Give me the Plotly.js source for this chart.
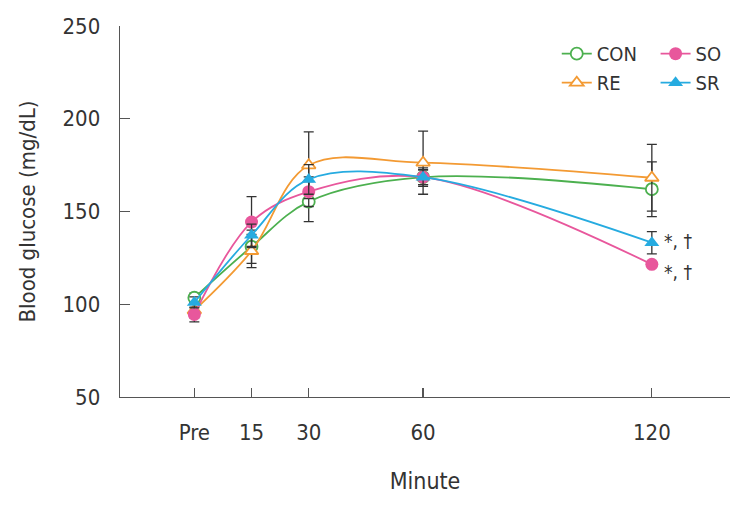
<!DOCTYPE html>
<html>
<head>
<meta charset="utf-8">
<script src="https://cdn.plot.ly/plotly-3.0.1.min.js"></script>
<style>html,body{margin:0;padding:0;background:#fff;}#chart{width:745px;height:506px;}</style>
</head>
<body>
<div id="chart"></div>
<script>
const minutes = [0, 15, 30, 60, 120];
const tickLabels = ['Pre', '15', '30', '60', '120'];
const seriesNames = ['CON', 'RE', 'SO', 'SR'];
const conValues = [103.5, 131, 155.3, 168.5, 162];
const conErr = [2.5, 9, 10.8, 5, 14.8];
const reValues = [96.7, 128.7, 174.9, 176.3, 168.2];
const reErr = [4, 9, 18, 17, 18];
const soValues = [94.5, 144.3, 160.7, 168.5, 121.5];
const soErr = [4, 13.7, 8, 4, 0];
const srValues = [101, 137.2, 167.3, 168.5, 133.2];
const srErr = [3, 6, 8, 4, 6];
const sigLabel = '*, \u2020';

const FONT = '"DejaVu Sans Condensed", "Liberation Sans Narrow", "Roboto Condensed", Arial, sans-serif';
const errStyle = {type: 'data', visible: true, color: '#333333', thickness: 1.3, width: 5};

function mk(name, y, err, color, symbol, open, legend) {
  return {
    x: minutes, y: y, name: name, type: 'scatter', mode: 'lines+markers',
    legend: legend,
    line: {color: color, width: 1.8, shape: 'spline', smoothing: 1},
    marker: {symbol: symbol, size: open ? 12 : 13, color: open ? '#ffffff' : color,
             line: {color: color, width: open ? 1.8 : 0}},
    error_y: Object.assign({array: err}, errStyle)
  };
}

const traces = [
  mk(seriesNames[0], conValues, conErr, '#4cb04f', 'circle', true, 'legend'),
  mk(seriesNames[1], reValues, reErr, '#f39a33', 'triangle-up', true, 'legend'),
  mk(seriesNames[2], soValues, soErr, '#e8579c', 'circle', false, 'legend2'),
  mk(seriesNames[3], srValues, srErr, '#26abe0', 'triangle-up', false, 'legend2')
];

const legendBase = {
  orientation: 'v', bgcolor: 'rgba(0,0,0,0)', borderwidth: 0,
  font: {family: FONT, size: 20, color: '#333'},
  xref: 'paper', yref: 'paper', xanchor: 'left', yanchor: 'top',
  tracegroupgap: 0, itemwidth: 30
};

const layout = {
  width: 745, height: 506, autosize: false,
  margin: {l: 120, r: 15, t: 26, b: 109},
  paper_bgcolor: '#ffffff', plot_bgcolor: '#ffffff',
  font: {family: FONT, size: 22, color: '#333'},
  showlegend: true,
  legend: Object.assign({x: 0.716, y: 0.978}, legendBase),
  legend2: Object.assign({x: 0.878, y: 0.978}, legendBase),
  xaxis: {
    range: [-19.5, 140.5], tickvals: minutes, ticktext: tickLabels,
    showline: true, linecolor: '#555', linewidth: 1.3, showgrid: false, zeroline: false,
    ticks: 'inside', ticklen: 9, tickcolor: '#555', tickwidth: 1.3,
    ticklabelstandoff: 15,
    tickfont: {family: FONT, size: 22, color: '#333'},
    title: {text: 'Minute', font: {family: FONT, size: 23, color: '#333'}, standoff: 29}
  },
  yaxis: {
    range: [50, 250], dtick: 50, tick0: 50,
    showline: true, linecolor: '#555', linewidth: 1.3, showgrid: false, zeroline: false,
    ticks: 'inside', ticklen: 10, tickcolor: '#555', tickwidth: 1.3,
    ticklabelstandoff: 14,
    tickfont: {family: FONT, size: 22, color: '#333'},
    title: {text: 'Blood glucose (mg/dL)', font: {family: FONT, size: 22, color: '#333'}, standoff: 20}
  },
  annotations: [
    {x: minutes[4], y: srValues[4], xref: 'x', yref: 'y', text: sigLabel, showarrow: false,
     xanchor: 'left', xshift: 10, yshift: 2, font: {family: FONT, size: 19, color: '#333'}},
    {x: minutes[4], y: soValues[4], xref: 'x', yref: 'y', text: sigLabel, showarrow: false,
     xanchor: 'left', xshift: 10, yshift: -8, font: {family: FONT, size: 19, color: '#333'}}
  ]
};

Plotly.newPlot('chart', traces, layout, {displayModeBar: false, staticPlot: true});
</script>
</body>
</html>
